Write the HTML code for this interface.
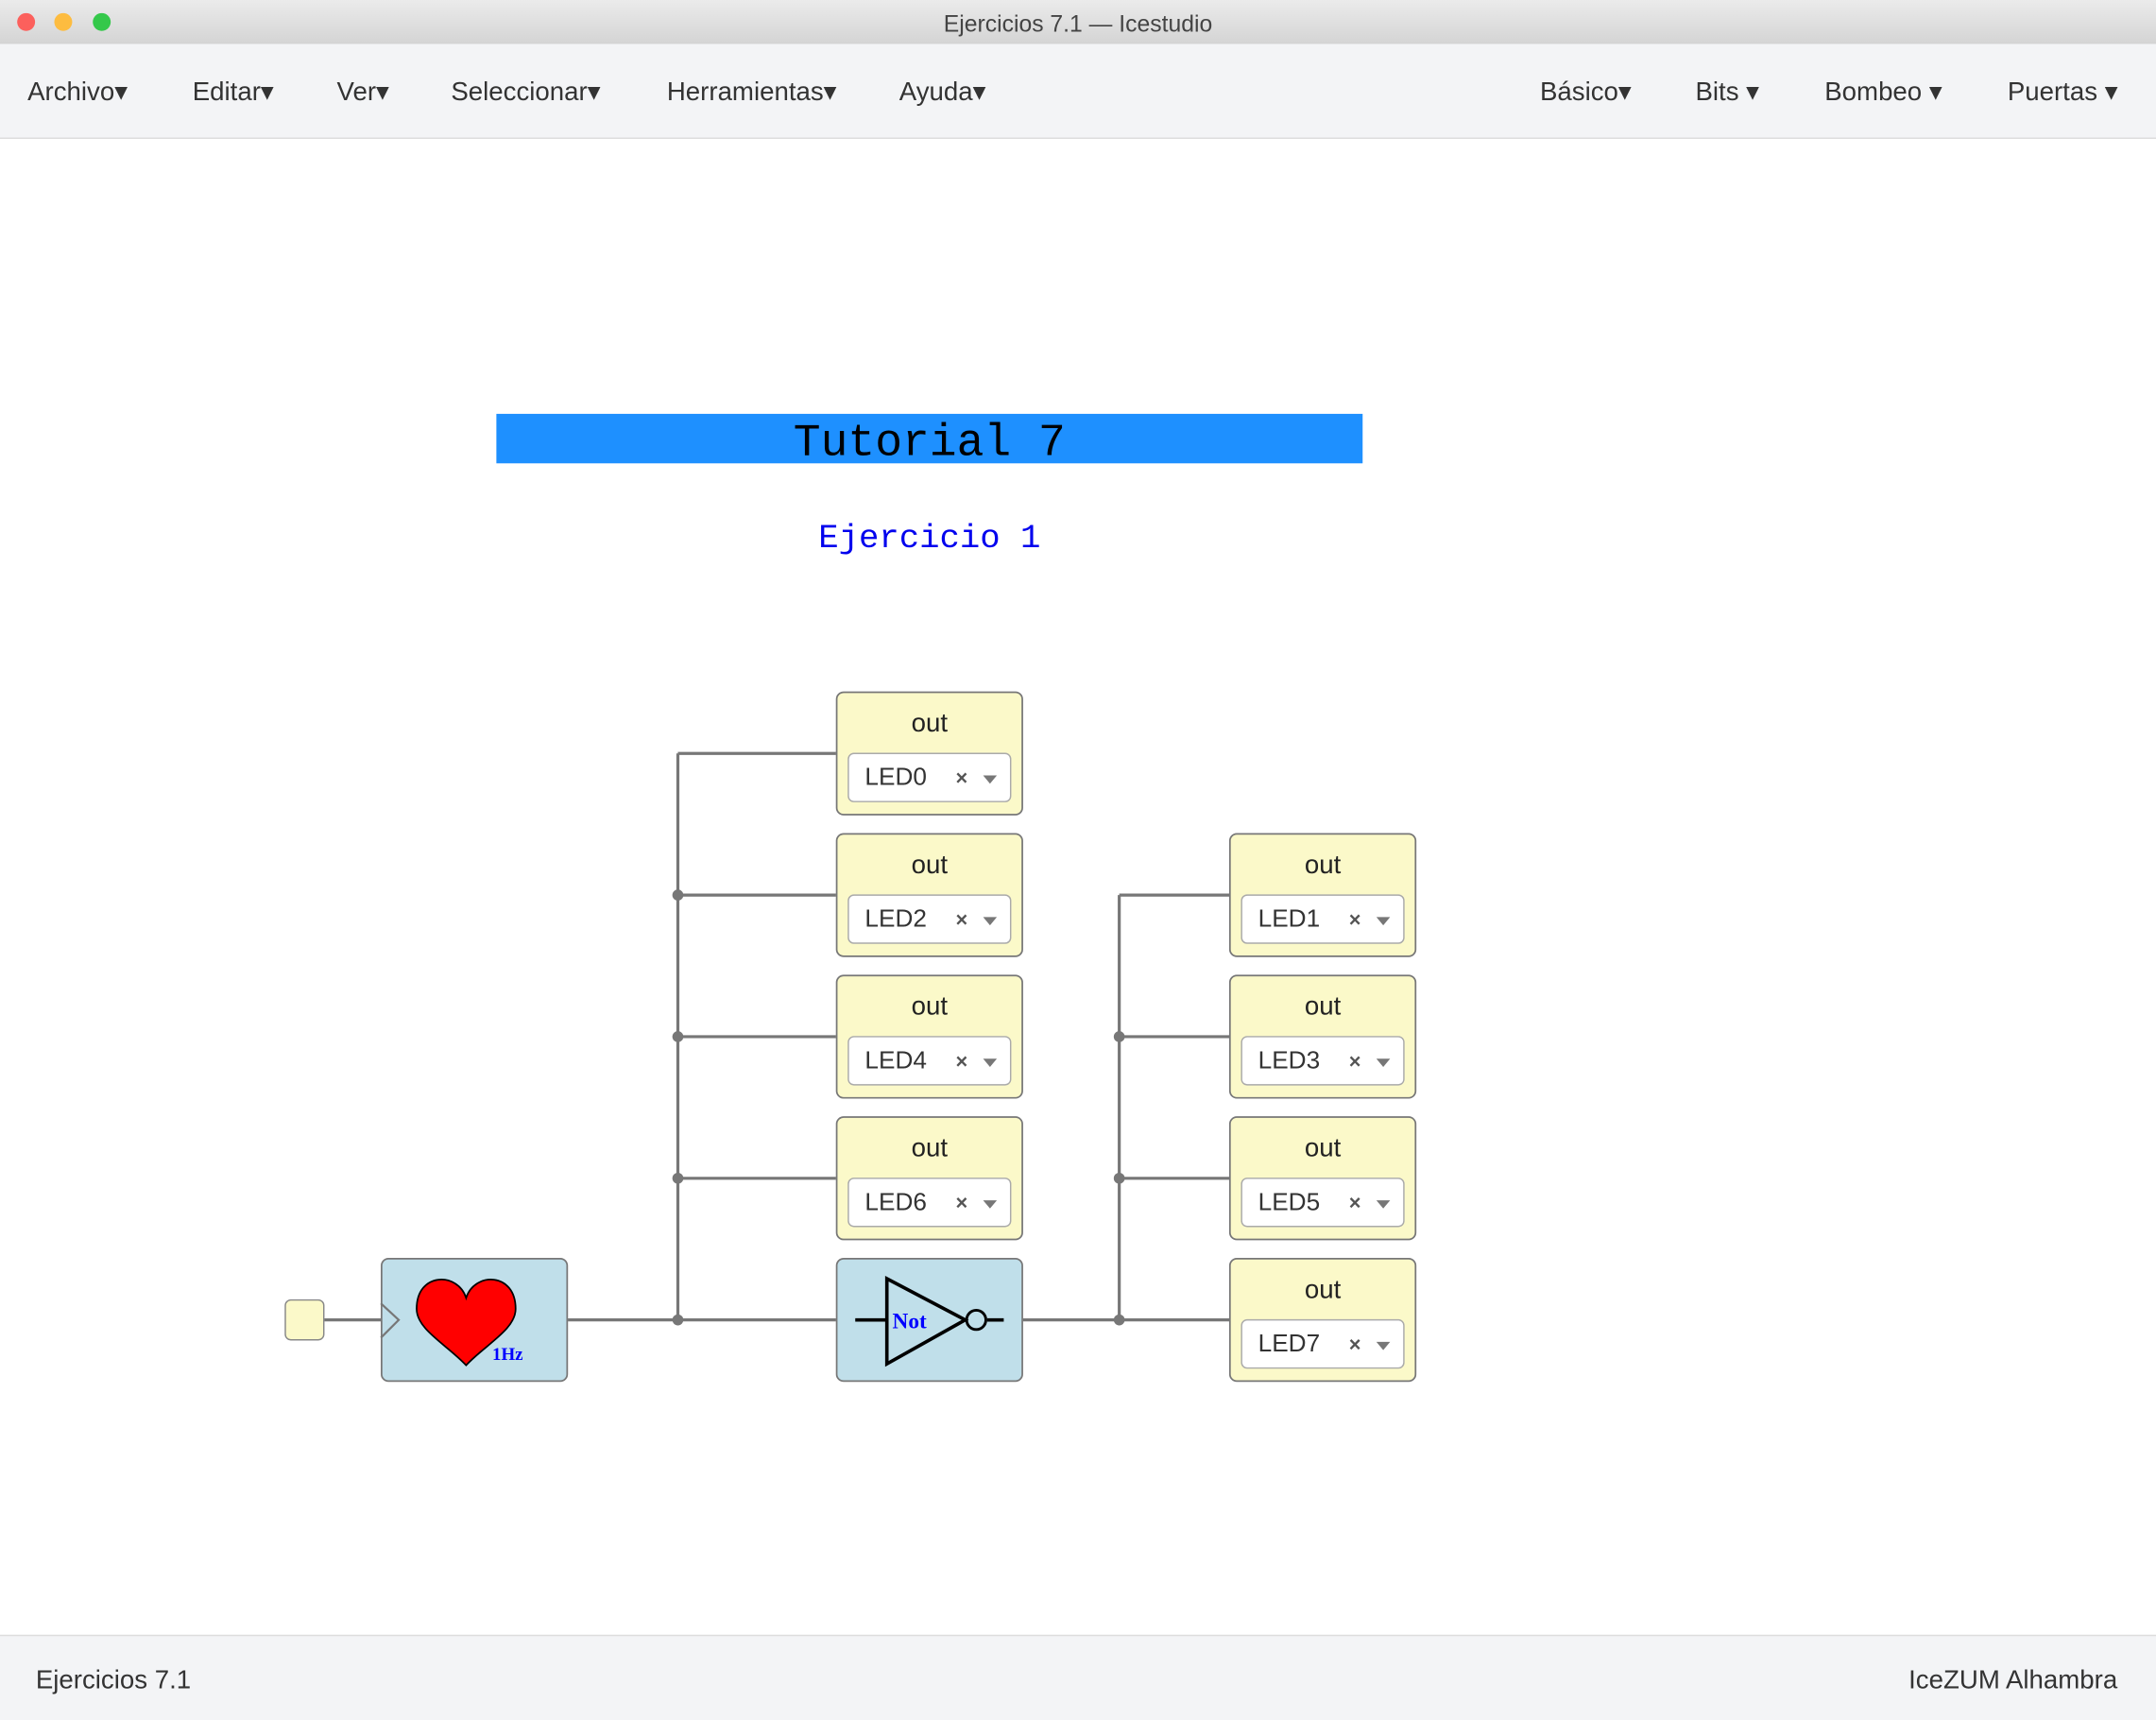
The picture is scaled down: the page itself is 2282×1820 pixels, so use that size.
<!DOCTYPE html>
<html><head><meta charset="utf-8"><style>
html,body{margin:0;padding:0;background:#fff;}
svg{display:block;}
</style></head><body>
<svg width="2282" height="1820" viewBox="0 0 1568 1251" preserveAspectRatio="none" xmlns="http://www.w3.org/2000/svg" font-family="Liberation Sans, sans-serif">
<defs>
<linearGradient id="tb" x1="0" y1="0" x2="0" y2="1"><stop offset="0" stop-color="#ebebeb"/><stop offset="1" stop-color="#d4d4d4"/></linearGradient>
<g id="led">
<rect x="0.5" y="0.5" width="135" height="89" rx="5" fill="#fbf9c9" stroke="#777" stroke-width="1.2"/>
<text x="68" y="29" font-size="19" text-anchor="middle" fill="#222">out</text>
<rect x="9" y="45" width="118" height="35" rx="4" fill="#fff" stroke="#aaa"/>
<text x="87" y="68" font-size="15" fill="#555" font-weight="bold">×</text>
<path d="M107 61 L117 61 L112 67 Z" fill="#777"/>
</g>
</defs>
<rect width="1568" height="1251" fill="#fff"/>
<rect width="1568" height="32" fill="url(#tb)"/>
<circle cx="19" cy="16" r="6.5" fill="#fc605c"/><circle cx="46" cy="16" r="6.5" fill="#fdbc40"/><circle cx="74" cy="16" r="6.5" fill="#34c84a"/>
<text x="784" y="23" font-size="17" text-anchor="middle" fill="#444">Ejercicios 7.1 — Icestudio</text>
<rect y="32" width="1568" height="68" fill="#f3f4f6"/>
<line x1="0" y1="100.5" x2="1568" y2="100.5" stroke="#ddd"/>
<g font-size="19" fill="#333">
<text x="20" y="73">Archivo▾</text><text x="140" y="73">Editar▾</text><text x="245" y="73">Ver▾</text>
<text x="328" y="73">Seleccionar▾</text><text x="485" y="73">Herramientas▾</text><text x="654" y="73">Ayuda▾</text>
<text x="1120" y="73">Básico▾</text><text x="1233" y="73">Bits ▾</text><text x="1327" y="73">Bombeo ▾</text><text x="1460" y="73">Puertas ▾</text>
</g>
<rect x="361" y="301" width="630" height="36" fill="#1e90ff"/>
<text x="676" y="331" font-size="33" font-family="Liberation Mono, monospace" text-anchor="middle" fill="#000">Tutorial 7</text>
<text x="676" y="398" font-size="24.5" font-family="Liberation Mono, monospace" text-anchor="middle" fill="#0000ee">Ejercicio 1</text>
<g stroke="#777" stroke-width="2.2" fill="none">
<path d="M236 960 H277 M413 960 H608 M493 548 V960 M493 548 H608 M493 651 H608 M493 754 H608 M493 857 H608"/>
<path d="M744 960 H894 M814 651 V960 M814 651 H894 M814 754 H894 M814 857 H894"/>
</g>
<g fill="#777"><circle cx="493" cy="651" r="4"/><circle cx="493" cy="754" r="4"/><circle cx="493" cy="857" r="4"/><circle cx="493" cy="960" r="4"/>
<circle cx="814" cy="754" r="4"/><circle cx="814" cy="857" r="4"/><circle cx="814" cy="960" r="4"/></g>
<use href="#led" x="608" y="503"/><use href="#led" x="608" y="606"/><use href="#led" x="608" y="709"/><use href="#led" x="608" y="812"/>
<use href="#led" x="894" y="606"/><use href="#led" x="894" y="709"/><use href="#led" x="894" y="812"/><use href="#led" x="894" y="915"/>
<g font-size="18" fill="#333">
<text x="629" y="571">LED0</text><text x="629" y="674">LED2</text><text x="629" y="777">LED4</text><text x="629" y="880">LED6</text>
<text x="915" y="674">LED1</text><text x="915" y="777">LED3</text><text x="915" y="880">LED5</text><text x="915" y="983">LED7</text>
</g>
<rect x="207.5" y="945.5" width="28" height="29" rx="4" fill="#fbf9c9" stroke="#888"/>
<rect x="277.5" y="915.5" width="135" height="89" rx="5" fill="#c0dfea" stroke="#777" stroke-width="1.2"/>
<path d="M277 948 L290 960 L277 973" fill="none" stroke="#777" stroke-width="1.5"/>
<path d="M339 944 C333 925 303 925 303 952 C303 967 325 978 339 993 C353 978 375 967 375 952 C375 925 345 925 339 944 Z" fill="#f00" stroke="#000" stroke-width="1.2"/>
<text x="358" y="989" font-size="13" font-weight="bold" font-family="Liberation Serif, serif" fill="#00f">1Hz</text>
<rect x="608.5" y="915.5" width="135" height="89" rx="5" fill="#c0dfea" stroke="#777" stroke-width="1.2"/>
<path d="M622 960 H645 M645 930 L702 960 L645 992 Z M718 960 H730" fill="none" stroke="#000" stroke-width="2.5"/>
<circle cx="710" cy="960" r="7" fill="none" stroke="#000" stroke-width="2"/>
<text x="649" y="966" font-size="16" font-weight="bold" font-family="Liberation Serif, serif" fill="#00f">Not</text>
<rect y="1189" width="1568" height="62" fill="#f3f4f6"/>
<line x1="0" y1="1189.5" x2="1568" y2="1189.5" stroke="#ddd"/>
<text x="26" y="1228" font-size="19" fill="#333">Ejercicios 7.1</text>
<text x="1540" y="1228" font-size="19" fill="#333" text-anchor="end">IceZUM Alhambra</text>
</svg>
</body></html>
